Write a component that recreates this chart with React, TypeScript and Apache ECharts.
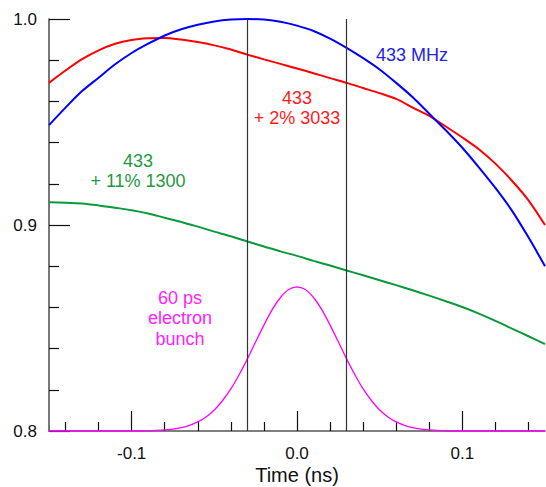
import React, { useEffect, useRef } from "react";
import * as echarts from "echarts";

// Time grid (ns) shared by the three RF curves
const TIMES = [
  -0.15, -0.14, -0.13, -0.12, -0.11, -0.1, -0.09, -0.08, -0.07, -0.06, -0.05,
  -0.04, -0.03, -0.02, -0.01, 0.0, 0.01, 0.02, 0.03, 0.04, 0.05, 0.06, 0.07,
  0.08, 0.09, 0.1, 0.11, 0.12, 0.13, 0.14, 0.15,
];

// 433 MHz (blue)
const RF_433 = [
  0.9485, 0.957, 0.965, 0.9715, 0.978, 0.9835, 0.988, 0.992, 0.995, 0.9972,
  0.9988, 0.9997, 1.0, 0.9997, 0.9987, 0.9968, 0.9942, 0.9905, 0.986, 0.981,
  0.9755, 0.969, 0.962, 0.954, 0.946, 0.9375, 0.928, 0.918, 0.907, 0.894, 0.88,
];

// 433 + 2% 3033 (red)
const RF_433_3033 = [
  0.969, 0.975, 0.9805, 0.9848, 0.988, 0.9898, 0.9906, 0.9908, 0.99, 0.9888,
  0.9872, 0.9852, 0.9827, 0.9804, 0.9782, 0.976, 0.9737, 0.9713, 0.969, 0.9665,
  0.964, 0.9612, 0.957, 0.953, 0.9478, 0.9425, 0.9368, 0.9298, 0.9215, 0.912,
  0.9,
];

// 433 + 11% 1300 (green)
const RF_433_1300 = [
  0.911, 0.9108, 0.9104, 0.9095, 0.9084, 0.9072, 0.9056, 0.9035, 0.9015, 0.8992,
  0.8968, 0.8945, 0.892, 0.8896, 0.8872, 0.885, 0.8826, 0.8803, 0.8779, 0.8756,
  0.8732, 0.8708, 0.8683, 0.8657, 0.863, 0.8602, 0.857, 0.8535, 0.8497, 0.846,
  0.8422,
];

// 60 ps electron bunch (magenta)
const BUNCH_TIMES = [
  -0.15, -0.1, -0.09, -0.08, -0.075, -0.07, -0.065, -0.06, -0.055, -0.05,
  -0.045, -0.04, -0.035, -0.03, -0.025, -0.02, -0.015, -0.01, -0.005, 0.0,
  0.005, 0.01, 0.015, 0.02, 0.025, 0.03, 0.035, 0.04, 0.045, 0.05, 0.055, 0.06,
  0.065, 0.07, 0.075, 0.08, 0.09, 0.1, 0.15,
];
const BUNCH = [
  0.8, 0.8, 0.8001, 0.8005, 0.8009, 0.8016, 0.8027, 0.8044, 0.8068, 0.8102,
  0.8148, 0.8204, 0.8273, 0.835, 0.8433, 0.8514, 0.8589, 0.8648, 0.8687, 0.87,
  0.8687, 0.8648, 0.8589, 0.8514, 0.8433, 0.835, 0.8273, 0.8204, 0.8148, 0.8102,
  0.8068, 0.8044, 0.8027, 0.8016, 0.8009, 0.8005, 0.8001, 0.8, 0.8,
];

// Vertical gate markers (ns)
const GATE_TIMES = [-0.03, 0.03];

// Axis ticks
const X_MAJOR = [-0.1, 0.0, 0.1];
const X_MINOR = [
  -0.14, -0.12, -0.08, -0.06, -0.04, -0.02, 0.02, 0.04, 0.06, 0.08, 0.12, 0.14,
];
const Y_TICKS = [0.8, 0.9, 1.0];

const FONT = "'Liberation Sans', Arial, Helvetica, sans-serif";

export default function App() {
  const ref = useRef<HTMLDivElement>(null);

  useEffect(() => {
    if (!ref.current) return;
    const chart = echarts.init(ref.current, null, { renderer: "svg" });
    const pair = (ts: number[], vs: number[]) => ts.map((t, i) => [t, vs[i]]);

    const tickStyle = { color: "#111", width: 1.2 };

    chart.setOption({
      animation: false,
      grid: {
        left: 49,
        right: 1,
        top: 19,
        bottom: 56,
        containLabel: false,
        outerBoundsMode: "none",
      },
      xAxis: [
        {
          type: "value",
          min: -0.15,
          max: 0.15,
          position: "bottom",
          axisLine: {
            show: true,
            onZero: false,
            lineStyle: { color: "#555", width: 1.6 },
          },
          axisTick: {
            show: true,
            inside: true,
            length: 20,
            customValues: X_MAJOR,
            lineStyle: tickStyle,
          },
          axisLabel: {
            customValues: X_MAJOR,
            formatter: (v: number) => v.toFixed(1),
            fontSize: 17,
            lineHeight: 17,
            color: "#111",
            fontFamily: FONT,
            margin: 14,
          },
          splitLine: { show: false },
          name: "Time (ns)",
          nameLocation: "middle",
          nameGap: 34,
          nameMoveOverlap: false,
          nameTextStyle: {
            fontSize: 20,
            lineHeight: 20,
            color: "#111",
            fontFamily: FONT,
          },
        },
        {
          type: "value",
          min: -0.15,
          max: 0.15,
          position: "bottom",
          axisLine: { show: false, onZero: false },
          axisTick: {
            show: true,
            inside: true,
            length: 9,
            customValues: X_MINOR,
            lineStyle: tickStyle,
          },
          axisLabel: { show: false },
          splitLine: { show: false },
        },
      ],
      yAxis: {
        type: "value",
        min: Y_TICKS[0],
        max: Y_TICKS[Y_TICKS.length - 1],
        interval: 0.1,
        axisLine: {
          show: true,
          onZero: false,
          lineStyle: { color: "#555", width: 1.6 },
        },
        axisTick: { show: true, inside: true, length: 21, lineStyle: tickStyle },
        minorTick: {
          show: true,
          splitNumber: 5,
          length: 10,
          lineStyle: tickStyle,
        },
        axisLabel: {
          formatter: (v: number) => v.toFixed(1),
          fontSize: 17,
          color: "#111",
          fontFamily: FONT,
          margin: 12,
        },
        splitLine: { show: false },
        minorSplitLine: { show: false },
      },
      series: [
        {
          name: "60 ps electron bunch",
          type: "line",
          data: pair(BUNCH_TIMES, BUNCH),
          smooth: 0.3,
          symbol: "none",
          clip: false,
          lineStyle: { color: "#ff00ff", width: 1.3 },
          z: 3,
          markLine: {
            silent: true,
            symbol: "none",
            label: { show: false },
            lineStyle: { color: "#333", width: 1.2, type: "solid" },
            data: GATE_TIMES.map((t) => ({ xAxis: t })),
          },
        },
        {
          name: "433 + 11% 1300",
          type: "line",
          data: pair(TIMES, RF_433_1300),
          smooth: 0.3,
          symbol: "none",
          clip: false,
          lineStyle: { color: "#0a9a3c", width: 2 },
        },
        {
          name: "433 + 2% 3033",
          type: "line",
          data: pair(TIMES, RF_433_3033),
          smooth: 0.3,
          symbol: "none",
          clip: false,
          lineStyle: { color: "#ff0000", width: 2 },
        },
        {
          name: "433 MHz",
          type: "line",
          data: pair(TIMES, RF_433),
          smooth: 0.3,
          symbol: "none",
          clip: false,
          lineStyle: { color: "#0000ff", width: 2 },
        },
      ],
      graphic: [
        {
          type: "text",
          x: 412,
          y: 55,
          style: {
            text: "433 MHz",
            fill: "#2323e6",
            font: `18px ${FONT}`,
            textAlign: "center",
            textVerticalAlign: "middle",
          },
        },
        {
          type: "text",
          x: 297,
          y: 108,
          style: {
            text: "433\n+ 2% 3033",
            fill: "#ff1a1a",
            font: `18px ${FONT}`,
            lineHeight: 20,
            textAlign: "center",
            textVerticalAlign: "middle",
          },
        },
        {
          type: "text",
          x: 138,
          y: 171,
          style: {
            text: "433\n+ 11% 1300",
            fill: "#1d9a40",
            font: `18px ${FONT}`,
            lineHeight: 20,
            textAlign: "center",
            textVerticalAlign: "middle",
          },
        },
        {
          type: "text",
          x: 180,
          y: 318,
          style: {
            text: "60 ps\nelectron\nbunch",
            fill: "#ff22ff",
            font: `18px ${FONT}`,
            lineHeight: 20.5,
            textAlign: "center",
            textVerticalAlign: "middle",
          },
        },
      ],
    });

    return () => chart.dispose();
  }, []);

  return (
    <div
      ref={ref}
      style={{
        position: "fixed",
        left: 0,
        top: 0,
        width: 546,
        height: 487,
        background: "#fff",
      }}
    />
  );
}
